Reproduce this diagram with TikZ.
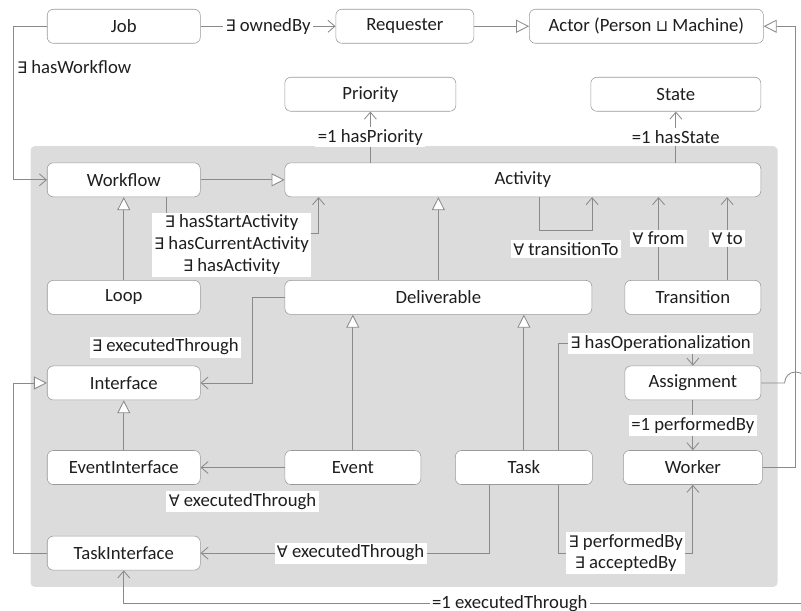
\documentclass[tikz,border=0pt]{standalone}
\usepackage{fontspec}
\setmainfont{Carlito}
\newfontfamily\symf{DejaVu Sans}[Scale=0.85]
\usetikzlibrary{positioning,fit,arrows.meta,calc,backgrounds}
\definecolor{panelgray}{HTML}{DCDCDC}
\definecolor{edgegray}{HTML}{8A8A8A}
\definecolor{boxgray}{HTML}{9A9A9A}
\definecolor{ink}{HTML}{1E1E1E}
\newcommand\exq{{\symf ∃}}
\newcommand\allq{{\symf ∀}}
\newcommand\joinq{{\symf ⊔}}

\begin{document}
\begin{tikzpicture}[
      font=\fontsize{13.3}{15.5}\selectfont,
      cls/.style={draw=boxgray, rounded corners=1.5mm, fill=white, text=ink,
                  minimum width=38.25mm, minimum height=8.5mm, inner sep=0pt},
      narrow/.style={cls, minimum width=34mm},
      lbl/.style={fill=white, text=ink, inner sep=0.6mm},
      arr/.style={draw=edgegray, line width=0.6pt, -{Straight Barb[length=1.75mm, width=3mm]}},
      isa/.style={draw=edgegray, line width=0.6pt,
                  -{Triangle[open, length=3.25mm, width=3.25mm, fill=white]}},
      plain/.style={draw=edgegray, line width=0.6pt},
      panel/.style={fill=panelgray, rounded corners=1mm, inner sep=0pt},
    ]
    % ---------- top row ----------
    \node[cls] (job) {Job};
    \node[narrow, minimum width=34.5mm, right=33.75mm of job] (requester) {Requester};
    \node[cls, minimum width=58.5mm, right=13.75mm of requester] (actor) {Actor (Person \joinq\ Machine)};

    \coordinate (pagenw) at ($(job.north west)+(-11.75mm,2.25mm)$);
    \coordinate (pagese) at ($(pagenw)+(200.25mm,-152.75mm)$);

    % ---------- process part ----------
    \node[cls, below=29.75mm of job] (workflow) {Workflow};
    \node[cls, minimum width=119mm, right=21mm of workflow] (activity) {Activity};
    \node[cls, minimum width=42.75mm, above=12.75mm of activity.north west, anchor=south west] (priority) {Priority};
    \node[cls, minimum width=42.5mm, above=12.75mm of activity.north east, anchor=south east] (state) {State};

    \node[cls, below=20.75mm of workflow] (loop) {Loop};
    \node[cls, minimum width=76.75mm, below=20.75mm of activity.south west, anchor=north west] (deliverable) {Deliverable};
    \node[narrow, below=20.75mm of activity.south east, anchor=north east] (transition) {Transition};

    \node[cls, below=12.75mm of loop] (interface) {Interface};
    \node[narrow, below=12.75mm of transition] (assignment) {Assignment};

    \node[cls, below=12.5mm of interface] (eventif) {EventInterface};
    \node[narrow, right=21mm of eventif] (event) {Event};
    \node[narrow, minimum width=34.25mm, right=8.5mm of event] (task) {Task};
    \node[narrow, minimum width=34.75mm, below=12.5mm of assignment] (worker) {Worker};
    \node[cls, below=12.75mm of eventif] (taskif) {TaskInterface};

    \begin{scope}[on background layer]
      \node[panel, fit=(workflow)(activity)(taskif), inner sep=4.1mm] (core) {};
    \end{scope}

    % ---------- top connectors ----------
    \draw[arr] (job) -- node[lbl] {\exq\ ownedBy} (requester);
    \draw[isa] (requester) -- (actor);
    \draw[arr] (job.west) -- ++(-8.5mm,0) |- node[lbl, pos=0.134, right=0.3mm] {\exq\ hasWorkflow} (workflow.west);

    \draw[isa] (workflow) -- (activity);
    \draw[isa] (loop) -- (workflow);
    \draw[arr] ([xshift=-8.5mm]workflow.south east) -- ++(0,-9mm)
      -| node[lbl, pos=0.25, align=center, xshift=-2.75mm, yshift=-2.9mm]
         {\exq\ hasStartActivity\\\exq\ hasCurrentActivity\\\exq\ hasActivity}
      ([xshift=8.5mm]activity.south west);

    \draw[arr] (activity.north -| priority) -- node[lbl] {=1 hasPriority} (priority);
    \draw[arr] (activity.north -| state) -- node[lbl] {=1 hasState} (state);
    \draw[arr] ([xshift=4.25mm]activity.south) -- ++(0,-8.25mm)
      -| node[lbl, pos=0.25, yshift=-4.75mm] {\allq\ transitionTo} (activity.south -| deliverable.east);

    \draw[isa] (deliverable) -- (deliverable |- activity.south);
    \coordinate (trfrom) at ([xshift=8.5mm]transition.north west);
    \coordinate (trto) at ([xshift=-8.5mm]transition.north east);
    \draw[arr] (trfrom) -- node[lbl] {\allq\ from} (trfrom |- activity.south);
    \draw[arr] (trto) -- node[lbl] {\allq\ to} (trto |- activity.south);

    % ---------- interfaces ----------
    \draw[arr] (deliverable.west) -- ++(-8mm,0)
      |- node[lbl, pos=0.29, left=2.75mm] {\exq\ executedThrough} (interface.east);
    \draw[isa] (eventif) -- (interface);
    \draw[isa] (taskif.west) -- ++(-8.5mm,0) |- (interface.west);
    \draw[isa] (event) -- (event |- deliverable.south);
    \draw[isa] (task) -- (task |- deliverable.south);
    \draw[arr] (event) -- node[lbl, yshift=-8.5mm] {\allq\ executedThrough} (eventif);

    % ---------- task and worker ----------
    \coordinate (taskti) at ([xshift=8.5mm]task.south west);
    \coordinate (taskwk) at ([xshift=-8.5mm]task.south east);
    \coordinate (taskop) at ([xshift=-8.5mm]task.north east);
    \draw[arr] (taskti) |- node[lbl, pos=0.74] {\allq\ executedThrough} (taskif.east);
    \draw[arr] (taskwk) -- (taskwk |- taskif)
      -| node[lbl, pos=0.25, align=center] {\exq\ performedBy\\\exq\ acceptedBy} (worker.south);
    \draw[arr] (taskop) -- ++(0,26.75mm)
      -| node[lbl, pos=0.38] {\exq\ hasOperationalization} (assignment.north);
    \draw[arr] (assignment) -- node[lbl] {=1 performedBy} (worker);

    % ---------- outer rim ----------
    \draw[isa] (worker.east) -- ++(8.25mm,0) coordinate (rimturn) |- (actor.east);
    \coordinate (hopstart) at ($(assignment.east -| rimturn)+(-2.75mm,0)$);
    \draw[plain] (assignment.east) -- (hopstart)
      arc[start angle=180, end angle=0, radius=2.75mm] coordinate (rimA);
    \coordinate (tibase) at ($(taskif.south)+(0,-8.25mm)$);
    \coordinate (rimB) at (tibase -| pagese);
    \draw[arr] (rimB) -| node[lbl, pos=0.215] {=1 executedThrough} (taskif.south);

    \pgfresetboundingbox
    \useasboundingbox (pagenw) rectangle (pagese);
  \end{tikzpicture}
\end{document}
